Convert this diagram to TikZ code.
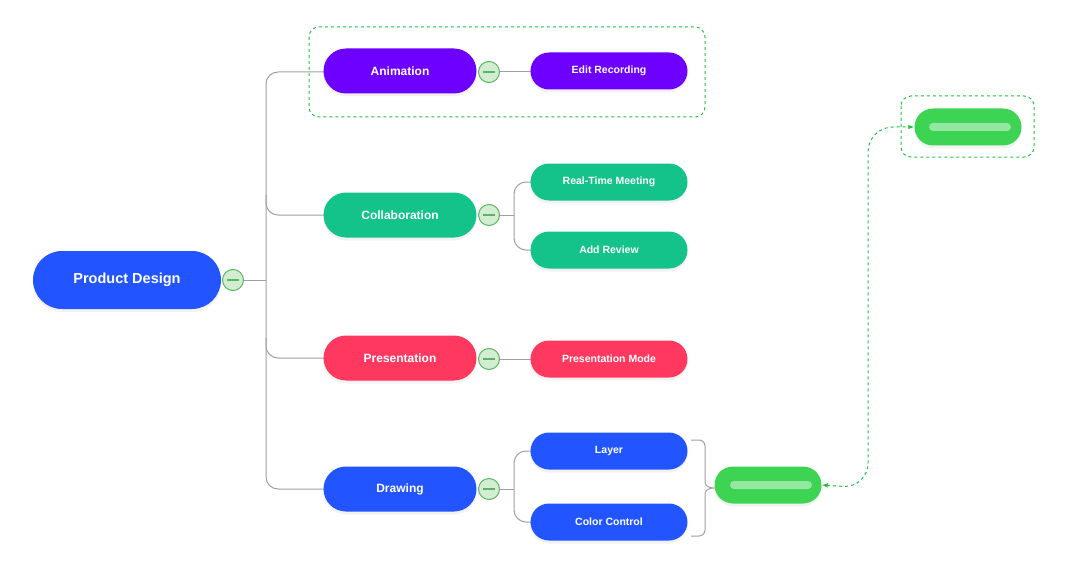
\documentclass[tikz,border=0pt]{standalone}
\usepackage{fontspec}
\setmainfont{Liberation Sans}
\usetikzlibrary{shapes.misc,shadows,arrows.meta,calc}
\definecolor{cpur}{HTML}{6E00FF}
\definecolor{cgrn}{HTML}{13C38A}
\definecolor{cred}{HTML}{FF3860}
\definecolor{cblu}{HTML}{2255FF}
\definecolor{clime}{HTML}{3CD452}
\definecolor{cline}{HTML}{A0A0A0}
\definecolor{cdash}{HTML}{22C040}
\definecolor{tfill}{HTML}{D3EDD3}
\definecolor{tdraw}{HTML}{5DB45F}
\begin{document}
\begin{tikzpicture}[x=1pt,y=-1pt,
  pill/.style={rounded rectangle,inner sep=0pt,text=white,font=\bfseries,
    drop shadow={opacity=0.10,shadow xshift=0pt,shadow yshift=-3pt}},
  l1/.style={pill,minimum width=153pt,minimum height=45pt,font=\bfseries\fontsize{12}{14}\selectfont},
  l2/.style={pill,minimum width=157pt,minimum height=37pt,font=\bfseries\fontsize{10.5}{12}\selectfont},
  tog/.style={circle,draw=tdraw,fill=tfill,line width=1pt,minimum size=21pt,inner sep=0pt},
  conn/.style={draw=cline,line width=1pt,rounded corners=12pt},
  gbox/.style={draw=cdash,dashed,line width=1pt,rounded corners=10pt},
  gnode/.style={pill,fill=clime,minimum width=107pt,minimum height=37pt}]
\useasboundingbox (0,0) rectangle (1068,567);
\draw[gbox] (309,27) rectangle (705,117);
\draw[gbox] (901,96) rectangle (1034,157);
\draw[conn] (244,280) -- (266,280);
\draw[conn] (324,72) -- (266,72) -- (266,489) -- (324,489);
\draw[conn] (266,195) |- (324,215);
\draw[conn] (266,338) |- (324,358);
\draw[cline,line width=1pt] (500,72) -- (531,72);
\draw[cline,line width=1pt] (500,359) -- (531,359);
\draw[conn] (500,215) -- (514,215);
\draw[conn] (531,182) -- (514,182) -- (514,250) -- (531,250);
\draw[conn] (500,489) -- (514,489);
\draw[conn] (531,451) -- (514,451) -- (514,522) -- (531,522);
\node[pill,fill=cblu,minimum width=188pt,minimum height=58pt,font=\bfseries\fontsize{14.5}{16}\selectfont] (pd) at (127,280) {Product Design};
\node[l1,fill=cpur] (an) at (400,71) {Animation};
\node[l1,fill=cgrn] (co) at (400,215) {Collaboration};
\node[l1,fill=cred] (pr) at (400,358) {Presentation};
\node[l1,fill=cblu] (dr) at (400,489) {Drawing};
\node[l2,fill=cpur] (er) at (609,71) {Edit Recording};
\node[l2,fill=cgrn] (rt) at (609,182) {Real-Time Meeting};
\node[l2,fill=cgrn] (ar) at (609,250) {Add Review};
\node[l2,fill=cred] (pm) at (609,359) {Presentation Mode};
\node[l2,fill=cblu] (la) at (609,451) {Layer};
\node[l2,fill=cblu] (cc) at (609,522) {Color Control};
\foreach \p/\n in {{(233,280)}/t0,{(489,72)}/t1,{(489,215)}/t2,{(489,359)}/t3,{(489,489)}/t4}{
  \node[tog] (\n) at \p {};
  \draw[tdraw,line width=1.2pt] ($(\n)+(-6,0)$) -- ($(\n)+(6,0)$);
}
% bracket
\draw[cline,line width=1pt] (691,440) -- (699,440) to[out=0,in=90] (705,446) -- (705,482)
  to[out=-90,in=180] (714,488) to[out=180,in=90] (705,494) -- (705,530) to[out=-90,in=0] (699,536) -- (691,536);
\node[gnode] (g1) at (768,485) {};
\fill[white,opacity=0.45,rounded corners=4pt] (730,481) rectangle (812,489);
\node[gnode] (g2) at (968,127) {};
\fill[white,opacity=0.45,rounded corners=4pt] (929,123) rectangle (1011,131);
\draw[cdash,dashed,line width=1pt,rounded corners=25pt,{Latex[length=6pt]}-{Latex[length=6pt]}] (g1.east) -- (868,488) -- (868,127) -- (g2.west);
\end{tikzpicture}
\end{document}
